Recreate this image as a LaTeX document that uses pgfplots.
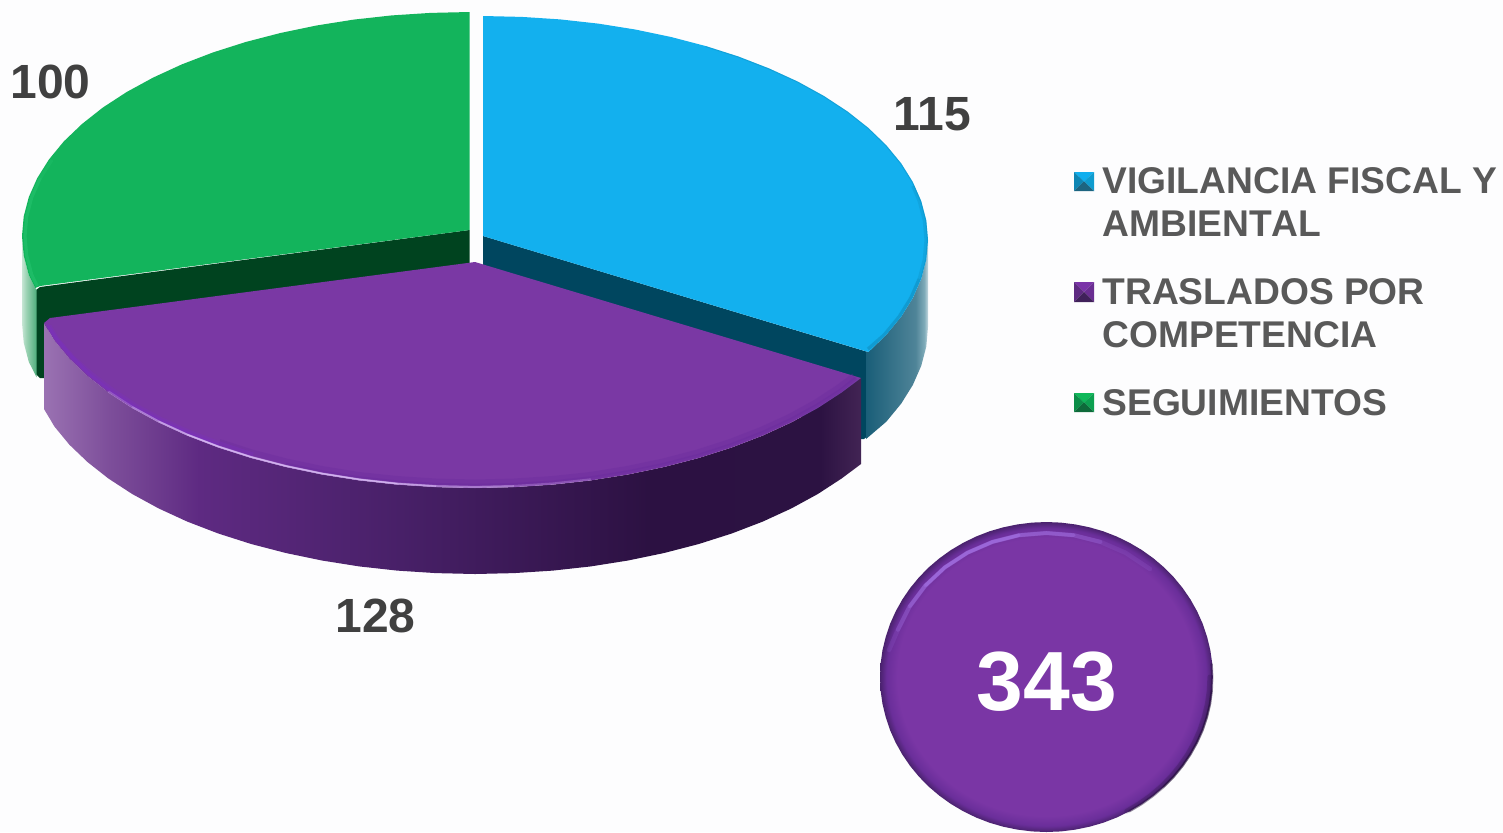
\documentclass[border=0pt]{standalone}
\usepackage{pgfplots}
\usepackage{fontspec}
\setmainfont[Kerning=Off]{Liberation Sans}
\pgfplotsset{compat=1.18}
\definecolor{bg}{HTML}{FDFDFE}
\definecolor{cB}{HTML}{13B0EE}
\definecolor{cBd}{HTML}{00465F}
\definecolor{cP}{HTML}{7A38A4}
\definecolor{cG}{HTML}{13B45C}
\definecolor{cGd}{HTML}{00431F}
\definecolor{txt}{HTML}{595959}
\definecolor{lab}{HTML}{404040}
\definecolor{pa}{HTML}{9A72B2}\definecolor{pb}{HTML}{7D4E9A}\definecolor{pc}{HTML}{5E2A82}
\definecolor{pd}{HTML}{482068}\definecolor{pe}{HTML}{2C1142}\definecolor{pf}{HTML}{2C1242}\definecolor{pg}{HTML}{422454}
\definecolor{ba}{HTML}{1A5E78}\definecolor{bb}{HTML}{4F8498}\definecolor{bc}{HTML}{7FABB9}\definecolor{bd}{HTML}{C5D9E0}
\definecolor{ga}{HTML}{C5E5D3}\definecolor{gb}{HTML}{9CD2B4}\definecolor{gc}{HTML}{4FAE7C}
\definecolor{da}{HTML}{7A36A5}\definecolor{dm}{HTML}{6A2E9A}\definecolor{db}{HTML}{4A226E}
\definecolor{h1}{HTML}{7B2FC4}\definecolor{h2}{HTML}{DCC0F8}\definecolor{h3}{HTML}{A877EA}\definecolor{h5}{HTML}{24103A}\definecolor{h6}{HTML}{6A2C9E}
\definecolor{e1}{HTML}{0E86B4}\definecolor{e2}{HTML}{2CCB76}
\definecolor{k1}{HTML}{10AEEE}\definecolor{k2}{HTML}{0E86B4}\definecolor{k3}{HTML}{0F9CCF}\definecolor{k4}{HTML}{1D6480}
\definecolor{k5}{HTML}{7A33A8}\definecolor{k6}{HTML}{5E2A82}\definecolor{k7}{HTML}{6A2E92}\definecolor{k8}{HTML}{40215A}
\definecolor{k9}{HTML}{0FB85A}\definecolor{k10}{HTML}{0B8E48}\definecolor{k11}{HTML}{0CA050}\definecolor{k12}{HTML}{0E6A3A}
\pgfdeclarehorizontalshading{purplewall}{100bp}{
 color(0bp)=(pa); color(25bp)=(pa); color(29bp)=(pb); color(34.5bp)=(pc);
 color(46.8bp)=(pd); color(62bp)=(pe); color(72.5bp)=(pf); color(75bp)=(pg); color(100bp)=(pg)}
\pgfdeclarehorizontalshading{bluewall}{100bp}{
 color(0bp)=(ba); color(25bp)=(ba); color(65bp)=(bb); color(72bp)=(bc); color(75bp)=(bd); color(100bp)=(bd)}
\pgfdeclarehorizontalshading{greenwall}{100bp}{
 color(0bp)=(ga); color(25bp)=(ga); color(40bp)=(gb); color(75bp)=(gc); color(100bp)=(gc)}
\pgfdeclareradialshading{disc}{\pgfpoint{0bp}{0bp}}{
 color(0bp)=(da); color(22.4bp)=(da); color(24bp)=(dm); color(25bp)=(db); color(50bp)=(db)}
\begin{document}
\begin{tikzpicture}
\begin{axis}[scale only axis,width=751.5pt,height=416pt,hide axis,
  xmin=0,xmax=1503,ymin=0,ymax=832,y dir=reverse,clip=true]
% background
\addplot[fill=bg,draw=none] coordinates {(0,0)(1503,0)(1503,832)(0,832)} --cycle;
% blue inner wall
\addplot[fill=cBd,draw=none] coordinates {(483,236)(868,352)(868,436)(864,439)(861,439)(483,300)} --cycle;
% blue outer wall
\addplot[shade,shading=bluewall,draw=none] coordinates {(928,240)(926.3,259.5)(921.2,278.9)(912.8,298)(901.2,316.6)(886.3,334.7)(868.4,352)(866,352)(866,439)(868.4,437)(886.3,421.7)(901.2,403.6)(912.8,385)(921.2,365.9)(926.3,346.5)(928,327)} --cycle;
% blue top
\addplot[fill=cB,draw=none] coordinates {(483,236)(483,16)(521.8,16.9)(560.3,19.4)(598.2,23.6)(635.2,29.5)(671.1,37)(705.5,46)(738.3,56.5)(769,68.4)(797.7,81.6)(823.9,96)(847.5,111.5)(868.4,128)(886.3,145.3)(901.2,163.4)(912.8,182)(921.2,201.1)(926.3,220.5)(928,240)(926.3,259.5)(921.2,278.9)(912.8,298)(901.2,316.6)(886.3,334.7)(868.4,352)} --cycle;
\addplot[draw=e1,line width=.5pt,opacity=.35] coordinates {(705.5,46.5)(738.3,57)(769,69)(797.7,82)(823.9,96.5)(847.5,112)(868.4,128.5)(885.8,145.5)(900.7,163.6)(912.3,182.2)(920.7,201.2)(925.8,220.6)(927.5,240)(925.8,259.4)(920.7,278.8)};
\addplot[draw=e1,line width=1.6pt,opacity=.25] coordinates {(912.8,186)(919.2,201.1)(924.3,220.5)(926,240)(924.3,259.5)(919.2,278.9)(910.8,298)(899.2,316.6)(884.3,334.7)(868,349)};
\addplot[draw=e1,line width=1.6pt,opacity=.3] coordinates {(919.2,278.9)(910.8,298)(899.2,316.6)(884.3,334.7)(868,349)};
% green inner wall
\addplot[fill=cGd,draw=none] coordinates {(469.5,230)(40,287)(36,290)(36,374)(40,378)(44,378)(44,330)(469.5,300)} --cycle;
% green outer wall
\addplot[shade,shading=greenwall,draw=none] coordinates {(22,236)(23.7,255.5)(28.8,274.9)(36.5,290)(36.5,377)(28.8,361.9)(23.7,342.5)(22,323)} --cycle;
% green top
\addplot[fill=cG,draw=none] coordinates {(469.5,230)(469.5,12)(430.5,12.9)(391.8,15.4)(353.7,19.6)(316.5,25.5)(280.4,33)(245.7,42)(212.8,52.5)(181.8,64.4)(153.1,77.6)(126.7,92)(102.9,107.5)(82,124)(63.9,141.3)(49,159.4)(37.3,178)(28.8,197.1)(23.7,216.5)(22,236)(23.7,255.5)(28.8,274.9)(35.3,288)(40,286)} --cycle;
\addplot[draw=e2,line width=1.6pt,opacity=.2] coordinates {(52,160)(40.3,178)(31.8,197.1)(26.7,216.5)(25,236)(26.7,255.5)(31.8,274.9)(37.3,286)};
\addplot[draw=e2,line width=1.6pt,opacity=.25] coordinates {(40.3,178)(31.8,197.1)(26.7,216.5)(25,236)(26.7,255.5)(31.8,274.9)(37.3,286)};
% purple wall
\addplot[shade,shading=purplewall,draw=none] coordinates {(861,378)(841.6,392.5)(817.8,408)(791.4,422.4)(762.7,435.6)(731.7,447.5)(698.8,458)(664.1,467)(628,474.5)(590.8,480.4)(552.7,484.6)(514,487.1)(475,488)(436,487.1)(397.3,484.6)(359.2,480.4)(322,474.5)(285.9,467)(251.2,458)(218.3,447.5)(187.3,435.6)(158.6,422.4)(132.2,408)(108.4,392.5)(87.5,376)(69.4,358.7)(54.5,340.6)(44,323)(44,409)(54.5,426.6)(69.4,444.7)(87.5,462)(108.4,478.5)(132.2,494)(158.6,508.4)(187.3,521.6)(218.3,533.5)(251.2,544)(285.9,553)(322,560.5)(359.2,566.4)(397.3,570.6)(436,573.1)(475,574)(514,573.1)(552.7,570.6)(590.8,566.4)(628,560.5)(664.1,553)(698.8,544)(731.7,533.5)(762.7,521.6)(791.4,508.4)(817.8,494)(841.6,478.5)(861,464)} --cycle;
% purple top
\addplot[fill=cP,draw=none] coordinates {(475,262)(861,378)(841.6,392.5)(817.8,408)(791.4,422.4)(762.7,435.6)(731.7,447.5)(698.8,458)(664.1,467)(628,474.5)(590.8,480.4)(552.7,484.6)(514,487.1)(475,488)(436,487.1)(397.3,484.6)(359.2,480.4)(322,474.5)(285.9,467)(251.2,458)(218.3,447.5)(187.3,435.6)(158.6,422.4)(132.2,408)(108.4,392.5)(87.5,376)(69.4,358.7)(54.5,340.6)(44,323)(50,318)} --cycle;
% purple top bevel: a soft band along the rim
\addplot[draw=h6,line width=3pt,opacity=.35] coordinates {(854,376)(838.6,387.5)(815.8,402.5)(789.4,417)(761,430)(730,442)(697.5,452.5)(663,461.5)(627,469)(590,475)(552,479)(514,481.5)(475,482.5)(436,481.5)(397.3,479)(359.2,475)(322,469)(286.5,461.5)(252,452.5)(219.5,442)};
\addplot[draw=h6,line width=1.8pt,opacity=.45] coordinates {(856,378)(840.6,390.5)(817,405.5)(790.4,420)(762,433)(731,445)(698.5,455.5)(664,464.5)(628,472)(590.8,478)(552.7,482.2)(514,484.7)(475,485.6)(436,484.7)(397.3,482.2)(359.2,478)(322,472)(285.9,464.5)};
\addplot[draw=h1,line width=2.4pt,opacity=.3] coordinates {(49,326)(58,340.6)(73,357.7)(91,374)(112,390)(135,405.5)(161,419.5)(190,432.6)(220,444)(253,455)};
\addplot[draw=h1,line width=1.6pt,opacity=.4] coordinates {(47,325)(57,339.6)(72,357)(90,375)(111,391.5)(134,406.5)(160,420.5)(189,433.6)(219,445.5)};
% purple rim highlight, tapered by overlaid strokes
\addplot[draw=h2,line width=1.1pt,opacity=.25] coordinates {(108.4,391.5)(132.2,407)(158.6,421.4)(187.3,434.6)(218.3,446.5)(251.2,457)(285.9,466)(322,473.5)(359.2,479.4)(397.3,483.6)(436,486.1)(475,487)(514,486.1)(552.7,483.6)(590.8,479.4)};
\addplot[draw=h2,line width=.9pt,opacity=.35] coordinates {(132.2,407)(158.6,421.4)(187.3,434.6)(218.3,446.5)(251.2,457)(285.9,466)(322,473.5)(359.2,479.4)(397.3,483.6)(436,486.1)(475,487)(514,486.1)};
\addplot[draw=h2,line width=.7pt,opacity=.5] coordinates {(158.6,421.4)(187.3,434.6)(218.3,446.5)(251.2,457)(285.9,466)(322,473.5)(359.2,479.4)(397.3,483.6)(436,486.1)};
\addplot[draw=h2,line width=.6pt,opacity=.6] coordinates {(187.3,434.6)(218.3,446.5)(251.2,457)(285.9,466)(322,473.5)(359.2,479.4)(397.3,483.6)};
% disc
\addplot[shade,shading=disc,draw=none] coordinates {(1212.8,677)(1212.2,690.5)(1210.3,703.9)(1207.1,717.1)(1202.8,730)(1197.2,742.5)(1190.5,754.5)(1182.7,765.9)(1173.9,776.6)(1164.1,786.6)(1153.4,795.7)(1141.8,804)(1129.6,811.2)(1116.7,817.5)(1103.3,822.7)(1089.5,826.7)(1075.3,829.6)(1060.9,831.4)(1046.4,832)(1031.9,831.4)(1017.5,829.6)(1003.3,826.7)(989.5,822.7)(976.1,817.5)(963.2,811.2)(951,804)(939.4,795.7)(928.7,786.6)(918.9,776.6)(910.1,765.9)(902.3,754.5)(895.6,742.5)(890,730)(885.7,717.1)(882.5,703.9)(880.6,690.5)(880,677)(880.6,663.5)(882.5,650.1)(885.7,636.9)(890,624)(895.6,611.5)(902.3,599.5)(910.1,588.1)(918.9,577.4)(928.7,567.4)(939.4,558.3)(951,550)(963.2,542.8)(976.1,536.5)(989.5,531.3)(1003.3,527.3)(1017.5,524.4)(1031.9,522.6)(1046.4,522)(1060.9,522.6)(1075.3,524.4)(1089.5,527.3)(1103.3,531.3)(1116.7,536.5)(1129.6,542.8)(1141.8,550)(1153.4,558.3)(1164.1,567.4)(1173.9,577.4)(1182.7,588.1)(1190.5,599.5)(1197.2,611.5)(1202.8,624)(1207.1,636.9)(1210.3,650.1)(1212.2,663.5)} --cycle;
% disc highlight, tapered
\addplot[draw=h3,line width=2.2pt,opacity=.15,line cap=round] coordinates {(889,650)(897.9,629.7)(909.6,606.5)(925.4,585.5)(944.8,567.4)(967.4,552.7)(992.4,541.9)(1019,535.2)(1046.4,533)(1073.8,535.2)(1100.4,541.9)(1125.4,552.7)(1150,569)};
\addplot[draw=h3,line width=2pt,opacity=.25,line cap=round] coordinates {(897.9,629.7)(909.6,606.5)(925.4,585.5)(944.8,567.4)(967.4,552.7)(992.4,541.9)(1019,535.2)(1046.4,533)(1073.8,535.2)(1100.4,541.9)};
\addplot[draw=h3,line width=1.8pt,opacity=.35,line cap=round] coordinates {(909.6,606.5)(925.4,585.5)(944.8,567.4)(967.4,552.7)(992.4,541.9)(1019,535.2)(1046.4,533)(1073.8,535.2)};
\addplot[draw=h3,line width=1.6pt,opacity=.45,line cap=round] coordinates {(925.4,585.5)(944.8,567.4)(967.4,552.7)(992.4,541.9)(1019,535.2)};
% disc dark rim, tapered
\addplot[draw=h5,line width=2.4pt,opacity=.2,line cap=round] coordinates {(1209.8,677)(1209.2,690.5)(1207.3,703.9)(1204.1,717.1)(1199.8,730)(1194.2,742.5)(1187.5,754.5)(1179.7,765.9)(1170.9,776.6)(1161.1,786.6)(1150.4,795.7)(1138.8,804)(1126.6,811.2)};
\addplot[draw=h5,line width=1.2pt,opacity=.4,line cap=round] coordinates {(1211.6,664)(1212.2,677)(1211.7,690.5)(1210,703.9)(1206.9,717.1)(1202.6,730)(1197,742.5)(1190.3,754.5)(1182.5,765.9)(1173.7,776.6)(1163.9,786.6)(1153.2,795.7)(1141.6,804)(1129.4,811.2)};
\addplot[draw=h5,line width=1pt,opacity=.4,line cap=round] coordinates {(1211.7,690.5)(1210,703.9)(1206.9,717.1)(1202.6,730)(1197,742.5)(1190.3,754.5)(1182.5,765.9)(1173.7,776.6)(1163.9,786.6)};
% legend keys
\addplot[fill=k1,draw=none] coordinates {(1074,172)(1094,172)(1084,181.5)} --cycle;
\addplot[fill=k2,draw=none] coordinates {(1074,172)(1084,181.5)(1074,191)} --cycle;
\addplot[fill=k3,draw=none] coordinates {(1094,172)(1094,191)(1084,181.5)} --cycle;
\addplot[fill=k4,draw=none] coordinates {(1074,191)(1094,191)(1084,181.5)} --cycle;
\addplot[fill=k5,draw=none] coordinates {(1074,282)(1094,282)(1084,292)} --cycle;
\addplot[fill=k6,draw=none] coordinates {(1074,282)(1084,292)(1074,302)} --cycle;
\addplot[fill=k7,draw=none] coordinates {(1094,282)(1094,302)(1084,292)} --cycle;
\addplot[fill=k8,draw=none] coordinates {(1074,302)(1094,302)(1084,292)} --cycle;
\addplot[fill=k9,draw=none] coordinates {(1074,393)(1094,393)(1084,402.5)} --cycle;
\addplot[fill=k10,draw=none] coordinates {(1074,393)(1084,402.5)(1074,412)} --cycle;
\addplot[fill=k11,draw=none] coordinates {(1094,393)(1094,412)(1084,402.5)} --cycle;
\addplot[fill=k12,draw=none] coordinates {(1074,412)(1094,412)(1084,402.5)} --cycle;
% labels
\tikzset{lg/.style={anchor=base west,inner sep=0pt,text=txt,font=\fontsize{18.6pt}{22pt}\selectfont\bfseries},
 dl/.style={anchor=base,inner sep=0pt,text=lab,font=\fontsize{24pt}{28pt}\selectfont\bfseries}}
\node[lg] at (axis cs:1102,193) {VIGILANCIA FISCAL Y};
\node[lg] at (axis cs:1102,236) {AMBIENTAL};
\node[lg] at (axis cs:1102,304) {TRASLADOS POR};
\node[lg] at (axis cs:1102,347) {COMPETENCIA};
\node[lg] at (axis cs:1102,415) {SEGUIMIENTOS};
\node[dl] at (axis cs:50.5,98) {100};
\node[dl] at (axis cs:932,130) {1\kern-1.3pt 15};
\node[dl] at (axis cs:375.5,632) {128};
\node[anchor=base,inner sep=0pt,text=white,font=\fontsize{42pt}{48pt}\selectfont\bfseries] at (axis cs:1047,710) {343};
\end{axis}
\end{tikzpicture}
\end{document}
